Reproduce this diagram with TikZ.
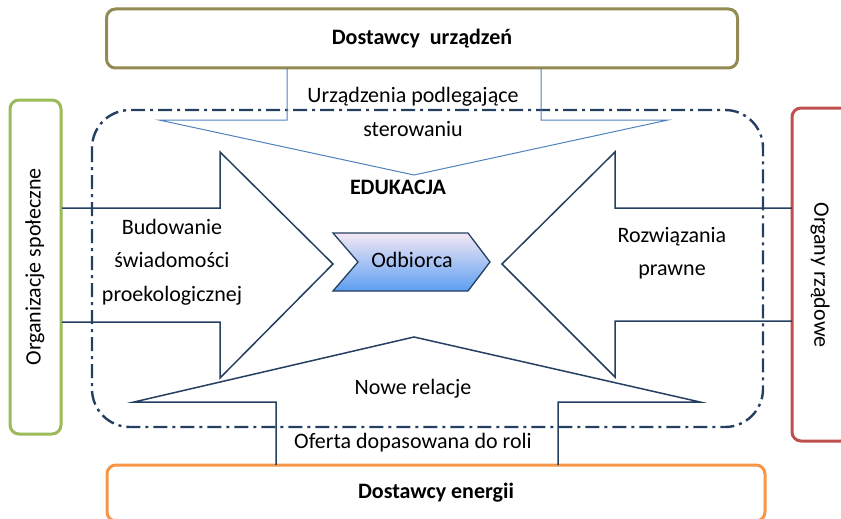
\documentclass[tikz,border=0pt]{standalone}
\usepackage{fontspec}
\setmainfont{Carlito}
\usetikzlibrary{positioning, calc}
\definecolor{navyc}{RGB}{36,63,96}
\definecolor{bluec}{RGB}{79,129,189}
\definecolor{olivec}{RGB}{148,138,84}
\definecolor{orangec}{RGB}{247,150,70}
\definecolor{greenc}{RGB}{155,187,89}
\definecolor{redc}{RGB}{192,80,77}
\definecolor{odbtop}{RGB}{244,232,244}
\definecolor{odbbot}{RGB}{92,158,242}

\begin{document}
\begin{tikzpicture}[x=1pt, y=-1pt, font=\fontsize{22pt}{33pt}\selectfont,
  % rounded boxes of the four actors
  actor/.style={draw=#1, line width=3pt, rounded corners=9pt, fill=white, inner sep=0pt},
  flow/.style={draw=navyc, line width=1.5pt, line join=miter},
  flowtxt/.style={align=center, text=black, font=\fontsize{22pt}{33.5pt}\selectfont},
]
\useasboundingbox (0,0) rectangle (841,519);
\clip (0,0) rectangle (841,519);

%% ── actors ───────────────────────────────────────────────────────
\node[actor=olivec, minimum width=631pt, minimum height=59pt,
      font=\fontsize{22pt}{26pt}\selectfont\bfseries] (urz) at (422,38.5) {Dostawcy\ \ urządzeń};
\node[actor=orangec, minimum width=658pt, minimum height=56pt,
      font=\fontsize{22pt}{26pt}\selectfont\bfseries] (ener) at (436,493) {Dostawcy energii};
\node[actor=greenc, minimum width=51pt, minimum height=334pt] (org) at (35.5,267) {};
\node[rotate=90] (orgtxt) at (35,267) {Organizacje społeczne};
\node[actor=redc, minimum width=58pt, minimum height=333pt] (rzad) at (821,274.5) {};
\node[rotate=-90] (rzadtxt) at (820,275) {Organy rządowe};

%% ── education frame (dash-dot, rounded) ─────────────────────────
\draw[navyc, line width=2.4pt, rounded corners=38pt,
      dash pattern=on 14pt off 5pt on 3pt off 5pt] (92,110) rectangle (763,427);

%% ── block arrows ────────────────────────────────────────────────
% down: from device suppliers
\draw[bluec, line width=1pt, line join=miter]
  (287,68) -- (287,120) -- (159,120) -- (414,175) -- (668,120) -- (541,120) -- (541,68);
\node[flowtxt] (sterow) at (413,112) {Urządzenia podlegające\\sterowaniu};

% right: from social organisations
\draw[flow] (62,208) -- (220,208) -- (220,152) -- (333,264) -- (220,378) -- (220,322) -- (62,322);
\node[flowtxt] (swiad) at (172,262) {Budowanie\\świadomości\\proekologicznej};

% left: from government
\draw[flow] (792,208) -- (615,208) -- (615,152) -- (502,264) -- (615,377) -- (615,321) -- (792,321);
\node[flowtxt] (prawo) at (672,253) {Rozwiązania\\prawne};

% up: from energy suppliers
\draw[flow] (276,465) -- (276,402) -- (134,402) -- (414,337) -- (700,402) -- (558,402) -- (558,465);
\node[flowtxt] (relacje) at (413,389) {Nowe relacje};
\node[flowtxt] (oferta) at (413,443) {Oferta dopasowana do roli};

%% ── centre ──────────────────────────────────────────────────────
\node[font=\fontsize{22pt}{26pt}\selectfont\bfseries] (edu) at (398,187) {EDUKACJA};
\path[draw=navyc, line width=1.3pt, top color=odbtop, bottom color=odbbot]
  (333,233) -- (468,233) -- (490,262) -- (468,291) -- (333,291) -- (358,262) -- cycle;
\node (odb) at (412,260) {Odbiorca};

\end{tikzpicture}
\end{document}
